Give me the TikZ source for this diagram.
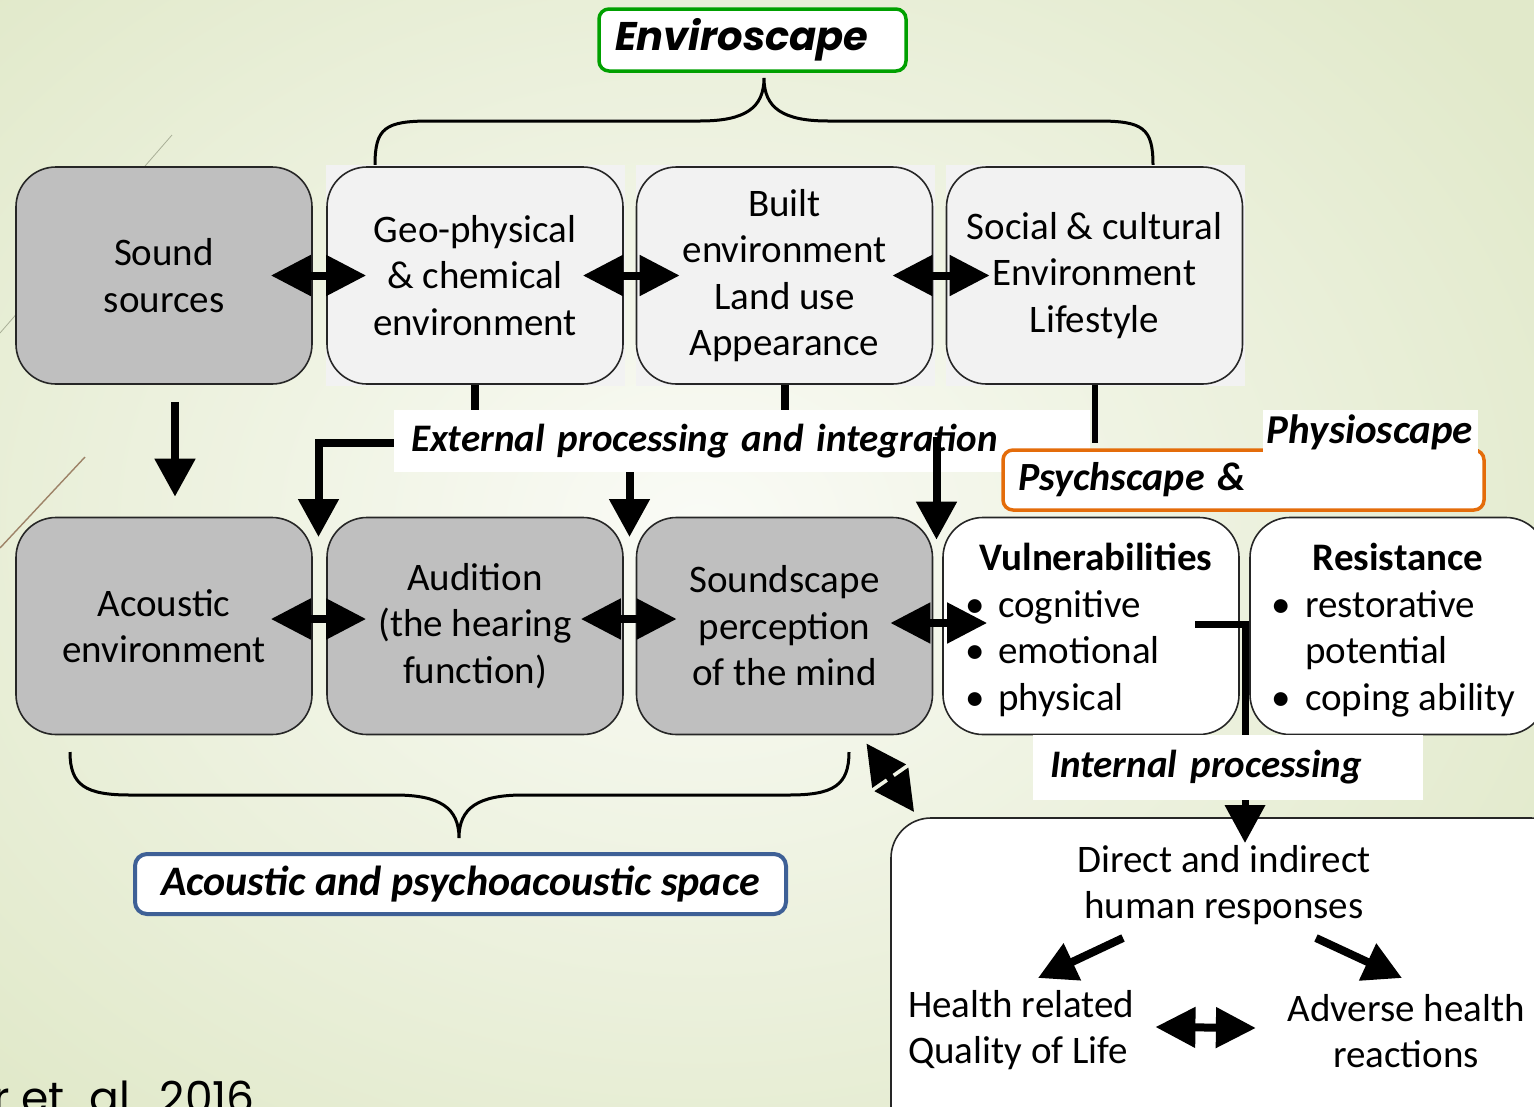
\documentclass[tikz,border=0pt]{standalone}
\usepackage{fontspec}
\setmainfont{Carlito}
\newfontfamily\gothic{Poppins}
\usetikzlibrary{arrows.meta,calc}
\definecolor{bgOut}{RGB}{225,233,202}
\definecolor{bgIn}{RGB}{250,251,246}
\definecolor{boxgray}{RGB}{191,191,191}
\definecolor{boxlight}{RGB}{242,242,242}
\definecolor{greenC}{RGB}{0,160,0}
\definecolor{orangeC}{RGB}{228,108,10}
\definecolor{blueC}{RGB}{62,96,150}
\begin{document}
\begin{tikzpicture}[x=1pt,y=-1pt,
  font=\fontsize{39}{46.5}\selectfont,
  box/.style={draw=black!85, line width=1.6pt, rounded corners=40pt, minimum width=296pt, minimum height=217pt, inner sep=0pt, align=center},
  gbox/.style={box, fill=boxgray},
  lbox/.style={box, fill=boxlight},
  wbox/.style={box, fill=white},
  arr/.style={line width=8pt, -{Triangle[length=38pt,width=39pt]}},
  dbl/.style={line width=8pt, {Triangle[length=40pt,width=39pt]}-{Triangle[length=40pt,width=39pt]}},
  bi/.style={font=\fontsize{39}{46.5}\selectfont\bfseries\itshape},
  label/.style={fill=white, bi, inner sep=0pt},
  brace/.style={line width=3pt},
  titlebox/.style={fill=white, line width=3.5pt, rounded corners=10pt, inner sep=0pt}
]
\clip (0,0) rectangle (1534,1106);
% background
\shade[inner color=bgIn, outer color=bgOut] (-300,-250) rectangle (1700,1300);
\draw[line width=0.8pt, black!25!bgOut] (172,135) -- (0,333);
\draw[line width=1.4pt, brown!60!black!70] (85,457) -- (0,548);

% braces
\draw[brace] (375,165) .. controls (375,128) and (385,121) .. (430,121) -- (700,121)
  .. controls (745,121) and (764,108) .. (764,78)
  .. controls (764,108) and (783,121) .. (828,121) -- (1098,121)
  .. controls (1143,121) and (1153,128) .. (1153,165);
\draw[brace] (70,752) .. controls (70,785) and (85,795) .. (130,795) -- (395,795)
  .. controls (440,795) and (459,808) .. (459,838)
  .. controls (459,808) and (478,795) .. (523,795) -- (789,795)
  .. controls (834,795) and (849,785) .. (849,752);

% title boxes
\node[titlebox, draw=greenC, minimum width=307pt, minimum height=62pt, text width=275pt, align=left] (env) at (752.5,40) {\fontsize{40}{46}\gothic\bfseries\itshape Enviroscape};
\node[titlebox, draw=blueC, line width=4pt, rounded corners=12pt, minimum width=651pt, minimum height=60pt, font=\fontsize{42}{48}\selectfont\bfseries\itshape] (aps) at (460.5,884) {Acoustic and psychoacoustic space};

% row 1
\fill[boxlight] (326,165) rectangle (625,386);
\fill[boxlight] (636,165) rectangle (935,386);
\fill[boxlight] (946,165) rectangle (1245,386);
\node[gbox] (ss) at (164,275.5) {Sound\\sources};
\node[lbox] (geo) at (475,275.5) {Geo-physical\\\&~chemical\\environment};
\node[lbox] (blt) at (784.5,275.5) {Built\\environment\\Land use\\Appearance};
\node[lbox] (soc) at (1094.5,275.5) {Social \& cultural\\Environment\\Lifestyle};

% row 2
\node[gbox] (ae) at (164,626) {Acoustic\\environment};
\node[gbox] (aud) at (475,626) {Audition\\(the hearing\\function)};
\node[gbox] (sp) at (784.5,626) {Soundscape\\perception\\of the mind};
\node[wbox] (vul) at (1091,626) {};
\node[wbox] (res) at (1398,626) {};
\node[anchor=base, font=\fontsize{39}{46.5}\selectfont\bfseries] (vulh) at (1096,570) {Vulnerabilities};
\node[anchor=base west] (vb1) at (962,617) {•};
\node[anchor=base west] (vb2) at (962,663) {•};
\node[anchor=base west] (vb3) at (962,710) {•};
\node[anchor=base west, inner xsep=0pt] (vt1) at (998,617) {cognitive};
\node[anchor=base west, inner xsep=0pt] (vt2) at (998,663) {emotional};
\node[anchor=base west, inner xsep=0pt] (vt3) at (998,710) {physical};
\node[anchor=base, font=\fontsize{39}{46.5}\selectfont\bfseries] (resh) at (1398,570) {Resistance};
\node[anchor=base west] (rb1) at (1268,617) {•};
\node[anchor=base west] (rb3) at (1268,710) {•};
\node[anchor=base west, inner xsep=0pt] (rt1) at (1305,617) {restorative};
\node[anchor=base west, inner xsep=0pt] (rt2) at (1305,663) {potential};
\node[anchor=base west, inner xsep=0pt] (rt3) at (1305,710) {coping ability};

% responses box
\node[wbox, minimum width=680pt, minimum height=330pt] (resp) at (1231,983) {};
\node[align=center] (dir) at (1224,885) {Direct and indirect\\human responses};
\node[anchor=west, align=left, inner xsep=0pt] (hrq) at (908,1030) {Health related\\Quality of Life};
\node[align=center] (adv) at (1406,1031) {Adverse health\\reactions};

% horizontal double arrows
\draw[dbl] ([xshift=-42pt]ss.east) -- ([xshift=40pt]geo.west);
\draw[dbl] ([xshift=-41pt]geo.east) -- ([xshift=44pt]blt.west);
\draw[dbl] ([xshift=-41pt]blt.east) -- ([xshift=44pt]soc.west);
\draw[dbl] ([xshift=-42pt,yshift=7pt]ae.east) -- ([xshift=40pt,yshift=7pt]aud.west);
\draw[dbl] ([xshift=-43pt,yshift=7pt]aud.east) -- ([xshift=41pt,yshift=7pt]sp.west);
\draw[dbl] ([xshift=-43pt,yshift=3pt]sp.east) -- ([xshift=45pt,yshift=3pt]vul.west);

% sound sources to acoustic environment
\draw[arr] ([xshift=11pt,yshift=-17pt]ss.south) -- ([xshift=11pt,yshift=20pt]ae.north);

% external processing
\node[label, minimum width=696pt, minimum height=62pt, text width=662pt, align=left] (ext) at (742,441) {External processing and integration};
\draw[line width=8pt] (geo.south) -- (geo.south |- ext.north);
\draw[line width=8pt] (blt.south) -- (blt.south |- ext.north);
\coordinate (g1) at (318.5,537);
\coordinate (g2) at (629.5,537);
\coordinate (xr) at (936.5,437);
\draw[arr] ([yshift=-2pt]ext.west) -| (g1);
\draw[arr] (ext.south -| g2) -- (g2);
\draw[arr] (xr) -- ($(xr |- vul.north)+(0,23)$);

% psychscape & physioscape
\node[titlebox, draw=orangeC, minimum width=481pt, minimum height=60pt, text width=451pt, align=left, font=\fontsize{40}{46}\selectfont\bfseries\itshape] (psy) at (1243.5,480) {Psychscape \&};
\draw[line width=6pt] (soc.south) -- ([yshift=5pt]soc.south |- psy.north);
\node[label, minimum width=215pt, minimum height=45pt, font=\fontsize{41}{47}\selectfont\bfseries\itshape] (phy) at (1370,432.5) {Physioscape};

% internal processing
\coordinate (ip0) at (1195,624);
\coordinate (ip1) at (1245,843);
\draw[line width=7pt, -{Triangle[length=38pt,width=39pt]}] (ip0) -| (ip1);
\node[label, minimum width=390pt, minimum height=65pt, text width=356pt, align=left] (int) at (1228,767.5) {Internal processing};

% soundscape perception <-> responses
\draw[dbl] ($(sp.south east)+(-67,8)$) -- ($(resp.north west)+(24,-5)$);

% responses arrows
\coordinate (ra1) at (1123,938);
\coordinate (ra2) at (1038,978);
\coordinate (rb1) at (1316,938);
\coordinate (rb2) at (1402,978);
\draw[arr] (ra1) -- (ra2);
\draw[arr] (rb1) -- (rb2);
\draw[dbl] ($(hrq.east)+(21,-3)$) -- ($(adv.west)+(-28,-3)$);

% citation
\node[anchor=base west, inner sep=0pt, font=\fontsize{44}{50}\gothic] (cite) at (-7,1113) {r et. al., 2016};
\end{tikzpicture}
\end{document}
